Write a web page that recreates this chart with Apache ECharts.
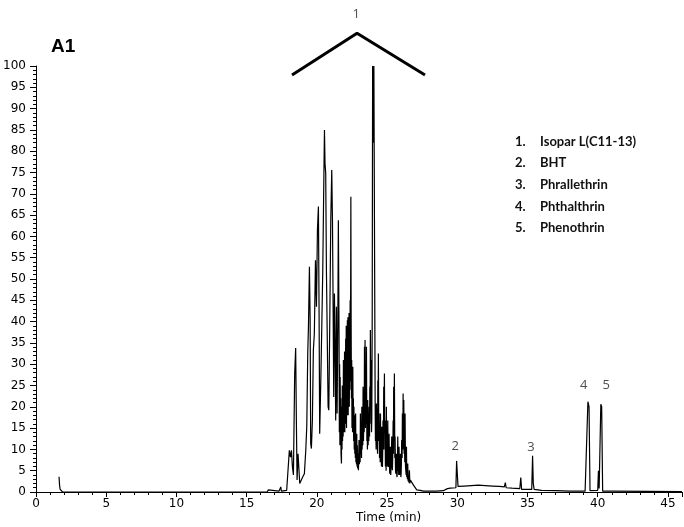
<!DOCTYPE html>
<html>
<head>
<meta charset="utf-8">
<script src="https://cdn.jsdelivr.net/npm/echarts@6/dist/echarts.min.js"></script>
<style>html,body{margin:0;padding:0;background:#fff}#c{width:684px;height:527px}</style>
</head>
<body>
<div id="c"></div>
<script>
// ---- data: [time (min), relative abundance] ----
const earlyTrace = [
  [1.64, 3.6], [1.66, 3.4], [1.68, 1.5], [1.72, 0.6], [1.8, 0.2], [1.9, 0.0],
  [7.35, 0.0], [7.45, 0.4], [7.55, 0.0],
  [15.1, 0.0], [15.2, 0.2], [15.3, 0.0],
  [16.45, 0.0], [16.55, 0.5], [16.65, 0.2], [17.3, 0.2]
];
const clusterTrace = [
  [17.38, 0.2], [17.43, 1.2], [17.47, 0.2], [17.85, 0.4], [17.97, 0.8],
  [18.04, 9.8], [18.12, 8.2], [18.19, 9.8], [18.26, 5.9], [18.33, 4.0],
  [18.42, 27.8], [18.49, 33.8], [18.54, 16.8], [18.59, 2.8], [18.66, 9.0],
  [18.71, 8.6], [18.78, 2.0], [18.87, 2.4], [18.99, 3.5], [19.11, 4.3],
  [19.21, 9.8], [19.28, 15.3], [19.35, 32.5], [19.40, 38.8], [19.47, 52.9],
  [19.52, 40.3], [19.56, 11.4], [19.61, 10.2], [19.68, 16.8], [19.75, 33.3],
  [19.82, 37.2], [19.90, 54.4], [19.97, 43.5], [20.04, 61.5], [20.11, 67.0],
  [20.16, 40.3], [20.20, 13.7], [20.28, 26.2], [20.35, 38.8], [20.42, 52.1],
  [20.49, 71.7], [20.54, 85.0], [20.58, 77.1], [20.63, 74.8], [20.68, 52.1],
  [20.73, 38.8], [20.80, 20.0], [20.85, 19.2], [20.92, 40.3], [20.99, 63.8],
  [21.06, 75.6], [21.11, 63.8], [21.15, 46.6], [21.20, 22.3], [21.25, 46.6],
  [21.30, 32.5], [21.34, 16.8], [21.39, 43.5], [21.44, 18.4], [21.49, 38.8],
  [21.53, 63.8], [21.58, 36.4], [21.60, 14.0], [21.62, 30.0], [21.64, 11.0],
  [21.66, 27.0], [21.68, 12.5], [21.70, 22.0], [21.72, 9.0], [21.75, 6.7],
  [21.77, 20.0], [21.79, 10.0], [21.81, 25.0], [21.83, 12.0], [21.85, 22.0],
  [21.87, 13.0], [21.89, 31.0], [21.91, 14.0], [21.93, 28.0], [21.95, 15.0],
  [21.97, 33.0], [21.99, 14.0], [22.01, 32.5], [22.03, 16.0], [22.05, 36.0],
  [22.07, 17.0], [22.09, 39.0], [22.11, 15.0], [22.13, 38.0], [22.15, 18.0],
  [22.17, 40.3], [22.19, 20.0], [22.21, 41.0], [22.23, 18.0], [22.25, 38.0],
  [22.27, 22.0], [22.29, 42.0], [22.31, 20.0], [22.33, 36.0], [22.35, 24.0],
  [22.37, 45.0], [22.39, 26.0], [22.42, 69.3], [22.44, 40.0], [22.46, 22.0],
  [22.48, 31.0], [22.50, 15.0], [22.52, 27.0], [22.54, 14.0], [22.56, 29.4],
  [22.58, 15.0], [22.60, 22.0], [22.62, 12.0], [22.64, 20.0], [22.66, 10.0],
  [22.68, 18.0], [22.70, 9.0], [22.72, 16.0], [22.74, 8.0], [22.76, 18.4],
  [22.78, 7.0], [22.80, 13.0], [22.82, 6.5], [22.84, 13.7], [22.86, 6.0],
  [22.88, 11.0], [22.90, 5.5], [22.93, 9.0], [22.96, 5.1],
  [23.00, 12.2], [23.03, 6.5], [23.05, 10.2], [23.08, 7.0], [23.10, 18.4],
  [23.13, 9.0], [23.15, 14.2], [23.18, 8.0], [23.20, 20.0], [23.22, 10.0],
  [23.24, 15.0], [23.27, 11.0], [23.29, 24.7], [23.32, 12.0], [23.34, 18.8],
  [23.37, 14.0], [23.39, 34.1], [23.41, 20.0], [23.43, 35.7], [23.46, 15.0],
  [23.48, 23.1], [23.51, 16.0], [23.53, 34.1], [23.56, 12.0], [23.58, 16.8],
  [23.60, 10.0], [23.62, 21.6], [23.65, 11.0], [23.67, 14.2], [23.70, 12.0],
  [23.72, 20.0], [23.75, 13.0], [23.77, 24.7], [23.79, 16.0], [23.81, 38.0],
  [23.84, 22.0], [23.86, 31.0], [23.89, 14.0], [23.91, 16.8], [23.94, 40.0],
  [23.97, 100], [24.00, 82.0], [24.06, 100], [24.10, 63.8],
  [24.15, 20.8], [24.17, 12.0], [24.19, 15.3], [24.22, 10.0], [24.24, 20.8],
  [24.27, 11.0], [24.29, 13.7], [24.32, 9.0], [24.34, 26.2], [24.36, 18.0],
  [24.38, 32.5], [24.41, 12.0], [24.43, 18.4], [24.46, 8.0], [24.48, 12.2],
  [24.51, 7.0], [24.53, 18.4], [24.55, 8.0], [24.57, 9.0], [24.60, 6.0],
  [24.62, 15.3], [24.65, 7.0], [24.67, 5.9], [24.69, 10.0], [24.71, 16.8],
  [24.74, 10.0], [24.76, 24.7], [24.78, 14.0], [24.81, 27.8], [24.84, 10.0],
  [24.86, 16.8], [24.88, 6.0], [24.90, 9.0], [24.93, 5.0], [24.95, 20.0],
  [24.97, 8.0], [25.00, 12.2], [25.02, 6.0], [25.05, 16.8], [25.07, 7.0],
  [25.09, 5.9], [25.12, 9.0], [25.14, 13.7], [25.17, 6.0], [25.19, 4.3],
  [25.22, 8.0], [25.24, 10.6], [25.26, 4.0], [25.28, 5.9], [25.31, 9.0],
  [25.33, 13.0], [25.36, 6.0], [25.38, 5.1], [25.41, 10.0], [25.43, 16.8],
  [25.45, 9.0], [25.47, 24.7], [25.50, 12.0], [25.52, 27.8], [25.55, 8.0],
  [25.57, 13.0], [25.60, 5.0], [25.62, 4.3], [25.65, 7.0], [25.67, 9.0],
  [25.69, 4.0], [25.71, 3.5], [25.74, 7.0], [25.76, 13.0], [25.79, 5.0],
  [25.81, 5.9], [25.83, 4.0], [25.85, 10.6], [25.88, 4.0], [25.90, 4.3],
  [25.93, 5.0], [25.95, 9.0], [25.98, 3.5], [26.00, 4.3], [26.02, 7.0],
  [26.04, 12.2], [26.07, 8.0], [26.09, 18.4], [26.12, 10.0], [26.14, 23.1],
  [26.17, 12.0], [26.19, 21.6], [26.21, 9.0], [26.23, 13.0], [26.26, 7.0],
  [26.28, 18.4], [26.31, 6.0], [26.33, 5.9], [26.36, 4.0], [26.38, 10.6],
  [26.40, 3.5], [26.42, 4.3], [26.45, 3.0], [26.47, 6.7], [26.50, 2.5],
  [26.52, 3.5], [26.56, 2.2], [26.59, 5.1], [26.62, 2.0], [26.66, 2.8],
  [26.76, 2.4], [26.88, 1.6], [27.00, 1.2], [27.11, 0.5], [27.35, 0.4], [27.60, 0.2]
];
const lateTrace = [
  [28.5, 0.2], [29.0, 0.3], [29.3, 0.8], [29.4, 1.0], [29.5, 0.9], [29.9, 1.0],
  [29.95, 7.3], [30.0, 7.0], [30.05, 1.3], [30.5, 1.4], [31.0, 1.5], [31.5, 1.6],
  [32.0, 1.5], [32.5, 1.4], [33.0, 1.3], [33.35, 1.2], [33.42, 2.2], [33.48, 1.0],
  [33.9, 0.9], [34.45, 0.8], [34.52, 3.4], [34.58, 0.6], [35.3, 0.6], [35.36, 8.5],
  [35.41, 2.0], [35.47, 0.6], [36.0, 0.4], [37.0, 0.3], [38.0, 0.2], [39.1, 0.2],
  [39.22, 0.5], [39.3, 21.2], [39.38, 20.0], [39.45, 0.3], [40.0, 0.4], [40.05, 5.0],
  [40.1, 0.8], [40.18, 0.6], [40.22, 20.6], [40.28, 20.0], [40.35, 0.2], [41.0, 0.2],
  [46.0, 0.1]
];
const xTicks = { min: 0, max: 46, step: 5 };
const yTicks = { min: 0, max: 100, step: 5 };
const peakLabels = [
  [22.8, 112.2, '1'], [29.85, 10.8, '2'], [35.25, 10.6, '3'], [39.0, 25.1, '4'], [40.6, 25.1, '5']
];
const bracket = [[18.23, 97.9], [22.86, 107.7], [27.7, 97.9]];
const legendItems = ['Isopar L(C11-13)', 'BHT', 'Phrallethrin', 'Phthalthrin', 'Phenothrin'];
const panelTitle = 'A1';
const xTitle = 'Time (min)';

const trace = earlyTrace.concat(clusterTrace, lateTrace);

const chart = echarts.init(document.getElementById('c'), null, { renderer: 'canvas' });

const legendGraphics = [];
legendItems.forEach((name, i) => {
  const y = 143 + i * 21.7;
  legendGraphics.push({ type: 'text', left: 515, top: y - 8, style: { text: (i + 1) + '.', font: 'bold 13px Lato', fill: '#111' } });
  legendGraphics.push({ type: 'text', left: 540, top: y - 8, style: { text: name, font: 'bold 13px Lato', fill: '#111' } });
});

chart.setOption({
  animation: false,
  backgroundColor: '#fff',
  grid: { left: 36, right: 2, top: 66, bottom: 35, containLabel: false },
  xAxis: {
    type: 'value', min: xTicks.min, max: xTicks.max, interval: xTicks.step,
    axisLine: { lineStyle: { color: '#000', width: 1 } },
    axisTick: { show: true, inside: false, length: 5, lineStyle: { color: '#000' } },
    minorTick: { show: true, splitNumber: 5, length: 3, lineStyle: { color: '#000' } },
    splitLine: { show: false },
    axisLabel: { color: '#000', fontFamily: 'DejaVu Sans', fontSize: 12, margin: 6, showMaxLabel: false }
  },
  yAxis: {
    type: 'value', min: yTicks.min, max: yTicks.max, interval: yTicks.step,
    axisLine: { show: true, lineStyle: { color: '#000', width: 1 } },
    axisTick: { show: true, inside: false, length: 6, lineStyle: { color: '#000' } },
    minorTick: { show: true, splitNumber: 5, length: 3, lineStyle: { color: '#000' } },
    splitLine: { show: false },
    axisLabel: { color: '#000', fontFamily: 'DejaVu Sans', fontSize: 12, margin: 10 }
  },
  graphic: [
    { type: 'text', left: 51, top: 37, style: { text: panelTitle, font: 'bold 19px "Liberation Sans"', fill: '#000' } },
    { type: 'text', left: 356, top: 512, style: { text: xTitle, font: '12px "DejaVu Sans"', fill: '#000' } }
  ].concat(legendGraphics),
  series: [
    {
      type: 'line', data: trace, showSymbol: false, symbol: 'none', sampling: null,
      lineStyle: { color: '#000', width: 1.2 }, clip: true, z: 3
    },
    {
      type: 'line', data: bracket, showSymbol: false, symbol: 'none', clip: false,
      lineStyle: { color: '#000', width: 3 }, z: 4
    },
    {
      type: 'scatter', data: peakLabels, symbolSize: 1, itemStyle: { color: 'rgba(0,0,0,0)' }, clip: false,
      label: { show: true, position: 'inside', formatter: p => p.data[2], color: '#222', fontFamily: '"Open Sans"', fontSize: 13 },
      z: 5
    }
  ]
});
</script>
</body>
</html>
